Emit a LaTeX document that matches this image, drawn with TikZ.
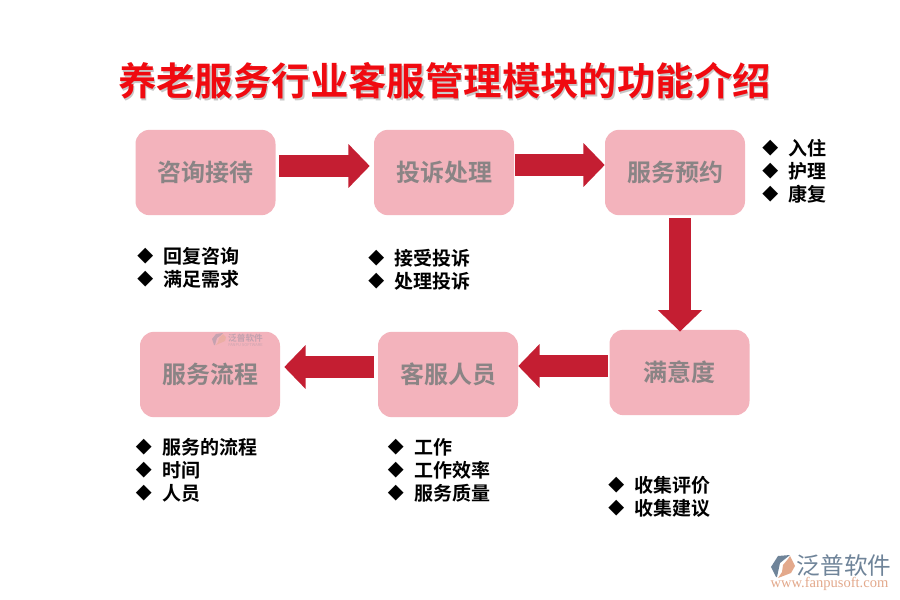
\documentclass[tikz,border=0pt]{standalone}
\usepackage{fontspec}
\setmainfont{Noto Sans CJK SC}[BoldFont={Noto Sans CJK SC Bold}]
\newfontfamily\symfont{DejaVu Sans}
\newfontfamily\latinfont{Liberation Serif}
\usetikzlibrary{arrows.meta,calc}
\definecolor{boxpink}{HTML}{F3B3BC}
\definecolor{boxtext}{HTML}{8A8485}
\definecolor{arrowred}{HTML}{C41E32}
\definecolor{titlered}{HTML}{F00A10}
\definecolor{logoblue}{HTML}{6F8499}
\definecolor{logoorange}{HTML}{E3A98C}
\tikzset{
  flowbox/.style={draw=none,fill=boxpink,rounded corners=10.5pt,minimum width=105pt,minimum height=64pt,inner sep=0pt,
    font=\fontsize{18}{18}\selectfont\bfseries,text=boxtext},
  blockarrow/.style={draw=arrowred,line width=16.5pt,-{Triangle[length=16pt,width=32pt,fill=arrowred]}},
  bulletmark/.style={inner sep=0pt,font=\symfont\fontsize{15.5}{16}\selectfont,text=black},
  itemtext/.style={anchor=west,inner sep=0pt,font=\fontsize{14.25}{15}\selectfont\bfseries,text=black},
}
\newcommand{\listitem}[4]{% name, x, y, text
  \node[bulletmark] (#1m) at (#2+0.3,#3+0.5) {◆};
  \node[itemtext] (#1t) at (#2+18.5,#3) {#4};
}
\begin{document}
\begin{tikzpicture}[x=0.75pt,y=-0.75pt]
\useasboundingbox (0,0) rectangle (900,600);
\fill[white] (0,0) rectangle (900,600);
% title
\node[inner sep=0pt,font=\fontsize{28.8}{30}\selectfont\bfseries,text=black!22] (titleshadow) at (446,82.5) {养老服务行业客服管理模块的功能介绍};
\node[inner sep=0pt,font=\fontsize{28.8}{30}\selectfont\bfseries,text=titlered] (title) at (444.5,81) {养老服务行业客服管理模块的功能介绍};
% boxes
\node[flowbox] (a) at (205.5,172.5) {咨询接待};
\node[flowbox] (b) at (444,172.5) {投诉处理};
\node[flowbox] (c) at (675,172.5) {服务预约};
\node[flowbox] (d) at (679.5,372.5) {满意度};
\node[flowbox] (e) at (448,374.5) {客服人员};
\node[flowbox] (f) at (210,374.5) {服务流程};
% arrows
\draw[blockarrow] ([shift={(3,-6.5)}]a.east) -- ([shift={(-4,-6.5)}]b.west);
\draw[blockarrow] ([shift={(1,-7.5)}]b.east) -- ([shift={(0,-7.5)}]c.west);
\draw[blockarrow] ([shift={(5,3)}]c.south) -- ([shift={(0.5,2)}]d.north);
\draw[blockarrow] ([shift={(-1,-6.5)}]d.west) -- ([shift={(0,-8.5)}]e.east);
\draw[blockarrow] ([shift={(-3.5,-7.5)}]e.west) -- ([shift={(4,-7.5)}]f.east);
% lists
\listitem{c1}{770}{148}{入住}
\listitem{c2}{770}{171}{护理}
\listitem{c3}{770}{194}{康复}
\listitem{a1}{145}{256}{回复咨询}
\listitem{a2}{145}{279}{满足需求}
\listitem{b1}{376}{258}{接受投诉}
\listitem{b2}{376}{281}{处理投诉}
\listitem{f1}{143.5}{447}{服务的流程}
\listitem{f2}{143.5}{470}{时间}
\listitem{f3}{143.5}{493}{人员}
\listitem{e1}{395.5}{447}{工作}
\listitem{e2}{395.5}{470}{工作效率}
\listitem{e3}{395.5}{493}{服务质量}
\listitem{d1}{616}{485}{收集评价}
\listitem{d2}{616}{508}{收集建议}
% small watermark in box f
\fill[logoblue!35!boxpink] (212,339) -- (216,334) -- (223,333) -- (220,336) -- (217,338) -- (215,345) -- (214,345) -- cycle;
\fill[logoorange!50!boxpink] (219,338) -- (223,334) -- (226,337) -- (225,341) -- (216,345) -- (218,342) -- cycle;
\node[inner sep=0pt,font=\fontsize{6.5}{7}\selectfont\bfseries,text=logoblue!38!boxpink] (wm1) at (245.5,338) {泛普软件};
\node[inner sep=0pt,font=\fontsize{3}{3}\selectfont,text=logoblue!30!boxpink] (wm2) at (245.5,345) {FANPU SOFTWARE};
% logo bottom right
\fill[logoblue] (771,567) -- (778,556) -- (790,555) -- (785,559) -- (780,563) -- (777,577) -- (776,577) -- cycle;
\fill[logoorange] (783,565) -- (788,559) -- (790,556) -- (795,566) -- (791,573) -- (778,578) -- (782,572) -- cycle;
\node[inner sep=0pt,font=\fontsize{17.7}{18}\selectfont,text=logoblue] (logotext) at (844,565.5) {泛普软件};
\node[inner sep=0pt,font=\latinfont\fontsize{10.9}{11}\selectfont,text=logoorange] (logourl) at (829.5,584) {www.fanpusoft.com};
\end{tikzpicture}
\end{document}
